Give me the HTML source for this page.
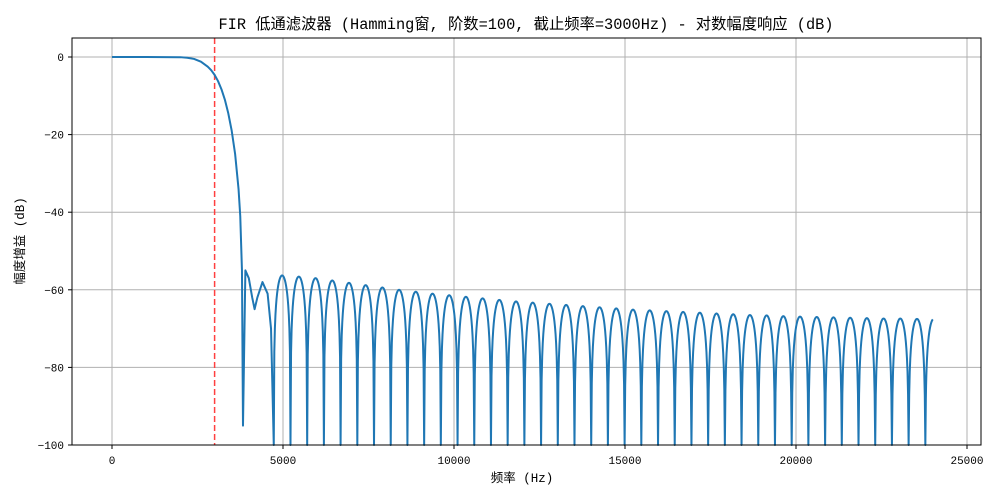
<!DOCTYPE html>
<html><head><meta charset="utf-8"><style>
body{margin:0;background:#fff}
svg{display:block;font-family:"Liberation Mono","Noto Sans CJK SC",monospace}
</style></head><body>
<svg id="chart" width="1000" height="500">
<rect x="0" y="0" width="1000" height="500" fill="#fff"/>
<text x="526" y="29" font-size="15.3" text-anchor="middle">FIR 低通滤波器 (Hamming窗, 阶数=100, 截止频率=3000Hz) - 对数幅度响应 (dB)</text>
<g id="grid"></g>
<g id="series"></g>
<rect x="72" y="38" width="909" height="407" fill="none" stroke="#000" stroke-width="1"/>
<g id="axes"></g>
<text x="522" y="482" font-size="12.5" text-anchor="middle">频率 (Hz)</text>
<text x="24" y="241" font-size="12.5" text-anchor="middle" transform="rotate(-90 24 241)">幅度增益 (dB)</text>
</svg>
<script>
const xTicks=[0,5000,10000,15000,20000,25000];
const yTicks=[0,-20,-40,-60,-80,-100];
const cutoff=3000;
const passFreq=[0,1000,2000,2200,2400,2600,2800,2900,3000,3100,3200,3300,3400,3500,3600,3700,3750,3800,3830];
const passDb=[0,0,-0.05,-0.2,-0.5,-1.2,-2.5,-3.4,-4.6,-6.2,-8.3,-11,-14.5,-19,-25,-34,-41,-55,-95];
const earlyFreq=[3830,3900,4000,4100,4170,4250,4400,4550,4650,4730];
const earlyDb=[-95,-55,-57,-62,-65,-62,-58,-61,-70,-100];
const nulls=[4730,5219,5707,6196,6684,7173,7661,8150,8638,9127,9615,10104,10592,11081,11569,12058,12546,13035,13523,14012,14500,14989,15477,15966,16454,16943,17431,17920,18408,18897,19385,19874,20362,20851,21339,21828,22316,22805,23293,23782];
const peaks=[-56.3,-56.6,-57,-57.6,-58.2,-58.8,-59.4,-60,-60.5,-61,-61.4,-61.8,-62.2,-62.6,-63,-63.3,-63.6,-63.9,-64.2,-64.5,-64.8,-65.1,-65.3,-65.5,-65.7,-65.9,-66.1,-66.3,-66.5,-66.6,-66.8,-66.9,-67,-67.1,-67.2,-67.3,-67.4,-67.4,-67.5,-67.5];
const endFreq=24000;

const X0=72,X1=981,Y0=38,Y1=445;
const fx=f=>112+f*0.0342;
const fy=d=>57+(-d)*3.88;
const NS='http://www.w3.org/2000/svg';
function mk(tag,attrs,parent){const e=document.createElementNS(NS,tag);for(const k in attrs)e.setAttribute(k,attrs[k]);parent.appendChild(e);return e;}
const grid=document.getElementById('grid'),axes=document.getElementById('axes'),series=document.getElementById('series');
xTicks.forEach(t=>{const x=fx(t);
 const g=mk('line',{x1:x,x2:x,y1:Y0,y2:Y1,stroke:'#b0b0b0','stroke-width':1},grid);
 
 
 mk('line',{x1:x,x2:x,y1:Y1,y2:Y1+4,stroke:'#000'},axes);
 const l=mk('text',{x:x,y:Y1+19,'font-size':11,'text-anchor':'middle'},axes);l.textContent=t;
 
 
});
yTicks.forEach(t=>{const y=fy(t);
 const g=mk('line',{x1:X0,x2:X1,y1:y,y2:y,stroke:'#b0b0b0','stroke-width':1},grid);
 
 
 mk('line',{x1:X0-4,x2:X0,y1:y,y2:y,stroke:'#000'},axes);
 const l=mk('text',{x:X0-8,y:y+4,'font-size':11,'text-anchor':'end'},axes);l.textContent=String(t).replace('-','\u2212');
 
 
});
const cl=mk('line',{x1:fx(cutoff),x2:fx(cutoff),y1:Y0,y2:Y1,stroke:'#ff4040','stroke-width':1.5,'stroke-dasharray':'6,3'},series);


let pts=[];
passFreq.forEach((f,i)=>pts.push([fx(f),fy(passDb[i])]));
earlyFreq.slice(1).forEach((f,i)=>pts.push([fx(f),fy(Math.max(-100,earlyDb[i+1]))]));
for(let i=0;i<nulls.length;i++){
 const a=nulls[i],b=i+1<nulls.length?nulls[i+1]:a+(nulls[1]-nulls[0]);
 const end=i+1<nulls.length?b:endFreq;
 const N=30;
 for(let k=1;k<=N;k++){const f=a+(end-a)*k/N;const t=(f-a)/(b-a);
  let d=peaks[i]+20*Math.log10(Math.max(1e-6,Math.sin(Math.PI*t)));d=Math.max(-100,d);
  pts.push([fx(f),fy(d)]);}
}
const p=mk('path',{d:'M'+pts.map(q=>q[0].toFixed(2)+','+q[1].toFixed(2)).join('L'),fill:'none',stroke:'#1f77b4','stroke-width':2,'stroke-linejoin':'round'},series);


</script>
</body></html>
